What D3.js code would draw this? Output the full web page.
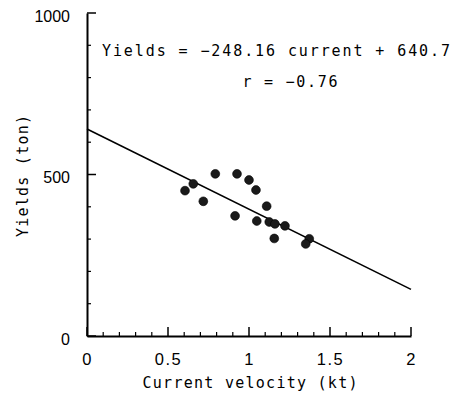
<!DOCTYPE html>
<html><head><meta charset="utf-8">
<script src="https://cdn.jsdelivr.net/npm/d3@7"></script>
<style>body{margin:0;background:#fff}svg{display:block}</style>
</head><body>
<script>
const velocity = [0.605,0.656,0.718,0.792,0.914,0.926,1.0,1.043,1.048,1.109,1.125,1.16,1.156,1.222,1.372,1.35];
const yields   = [450,471,417,502,372,502,483,452,356,402,353,347,302,341,301,285];
const slope = -248.16, intercept = 640.7;
const xTicks = [0,0.5,1,1.5,2];
const xTickLabels = ["0","0.5","1","1.5","2"];
const xMinorTicks = [0.1,0.2,0.3,0.4,0.6,0.7,0.8,0.9,1.1,1.2,1.3,1.4,1.6,1.7,1.8,1.9];
const yTicks = [0,500,1000];
const yTickLabels = ["0","500","1000"];
const yMinorTicks = [100,200,300,400,600,700,800,900];
const equationText = "Yields = \u2212248.16 current + 640.7";
const rText = "r = \u22120.76";
const xTitle = "Current velocity (kt)";
const yTitle = "Yields (ton)";

const W=470,H=396;
const svg=d3.select("body").append("svg").attr("width",W).attr("height",H);
const x=d3.scaleLinear().domain([0,2]).range([87,411]);
const y=d3.scaleLinear().domain([0,1000]).range([336,13]);
const font="'Liberation Sans', Arial, sans-serif";
const mono="'DejaVu Sans Mono', monospace";

const xa=svg.append("g").attr("transform","translate(0,336)")
  .call(d3.axisBottom(x).tickValues(xTicks).tickSize(0).tickPadding(17).tickFormat((d,i)=>xTickLabels[i]));
xa.select(".domain").attr("stroke","#000").attr("stroke-width",2);
xa.selectAll("text").attr("font-family",font).attr("font-size",16.5).attr("fill","#000").attr("letter-spacing","1.5px");

const ya=svg.append("g").attr("transform","translate(87,0)")
  .call(d3.axisLeft(y).tickValues(yTicks).tickSize(0).tickPadding(17).tickFormat((d,i)=>yTickLabels[i]));
ya.select(".domain").attr("stroke","#000").attr("stroke-width",2);
ya.selectAll("text").attr("font-family",font).attr("font-size",16).attr("fill","#000").attr("dy","0.5em");

const tg=svg.append("g");
tg.selectAll("line.xmaj").data(xTicks).join("line").attr("class","xmaj")
  .attr("x1",d=>x(d)).attr("x2",d=>x(d)).attr("y1",y(0)).attr("y2",y(0)-9).attr("stroke","#000").attr("stroke-width",1.5);
tg.selectAll("line.xmin").data(xMinorTicks).join("line").attr("class","xmin")
  .attr("x1",d=>x(d)).attr("x2",d=>x(d)).attr("y1",y(0)).attr("y2",y(0)-4).attr("stroke","#000").attr("stroke-width",1.2);
tg.selectAll("line.ymaj").data(yTicks).join("line").attr("class","ymaj")
  .attr("x1",x(0)).attr("x2",x(0)+9).attr("y1",d=>y(d)).attr("y2",d=>y(d)).attr("stroke","#000").attr("stroke-width",1.5);
tg.selectAll("line.ymin").data(yMinorTicks).join("line").attr("class","ymin")
  .attr("x1",x(0)).attr("x2",x(0)+4).attr("y1",d=>y(d)).attr("y2",d=>y(d)).attr("stroke","#000").attr("stroke-width",1.2);

svg.append("line")
  .attr("x1",x(0)).attr("y1",y(intercept))
  .attr("x2",x(2)).attr("y2",y(intercept+slope*2))
  .attr("stroke","#000").attr("stroke-width",1.6);

svg.append("g").selectAll("circle").data(velocity).join("circle")
  .attr("cx",d=>x(d)).attr("cy",(d,i)=>y(yields[i])).attr("r",4.4)
  .attr("fill","#1a1a1a").attr("stroke","#000").attr("stroke-width",0.6);

svg.append("text").attr("x",276).attr("y",56).attr("text-anchor","middle")
  .attr("font-family",mono).attr("font-size",15).attr("textLength",348).attr("lengthAdjust","spacing")
  .text(equationText);
svg.append("text").attr("x",290).attr("y",87).attr("text-anchor","middle")
  .attr("font-family",mono).attr("font-size",15).attr("textLength",95).attr("lengthAdjust","spacing")
  .text(rText);

svg.append("text").attr("x",250).attr("y",388).attr("text-anchor","middle")
  .attr("font-family",mono).attr("font-size",15).attr("textLength",215).attr("lengthAdjust","spacing")
  .text(xTitle);
svg.append("text").attr("transform","translate(28,176) rotate(-90)").attr("text-anchor","middle")
  .attr("font-family",mono).attr("font-size",15).attr("textLength",122).attr("lengthAdjust","spacing")
  .text(yTitle);
</script>
</body></html>
